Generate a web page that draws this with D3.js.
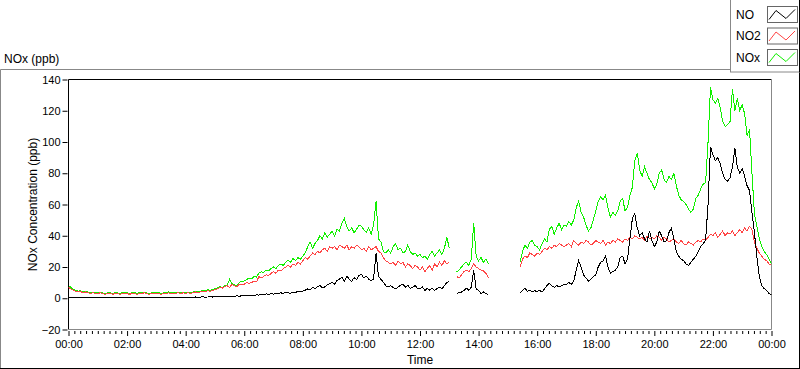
<!DOCTYPE html>
<meta charset="utf-8">
<html>
<head>
  <script src="https://d3js.org/d3.v7.min.js" charset="utf-8"></script>
</head>
<style>
* { font-family: "Liberation Sans", Arial, sans-serif; }
body { margin: 0; background-color: white; }
.tick text { font-size: 11px; fill: #000; }
.label { font-size: 12px; fill: #000; }
</style>
<body>
<div id="container"></div>
<script type="text/javascript">

// one sample every 5 minutes from 00:00 to 24:00, null = no data
var stepMinutes = 5;
var seriesNames = ["NO", "NO2", "NOx"];
var seriesColors = ["#000000", "#ff4545", "#11f000"];
var yTicks = [-20, 0, 20, 40, 60, 80, 100, 120, 140];
var xTicks = [0, 2, 4, 6, 8, 10, 12, 14, 16, 18, 20, 22, 24];
var xTickLabels = ["00:00", "02:00", "04:00", "06:00", "08:00", "10:00", "12:00", "14:00", "16:00", "18:00", "20:00", "22:00", "00:00"];

var NO = [
  0.5,0.8,0.6,0.4,0.5,0.7,0.4,0.5,0.6,0.4,0.5,0.5,
  0.4,0.6,0.5,0.3,0.5,0.6,0.4,0.5,0.4,0.6,0.5,0.4,
  0.5,0.4,0.6,0.5,0.4,0.5,0.6,0.5,0.4,0.5,0.6,0.5,
  0.5,0.6,0.4,0.5,0.7,0.5,0.6,0.4,0.5,0.6,0.5,0.7,
  0.6,0.5,0.7,0.6,0.8,0.6,0.7,0.9,0.7,0.8,1.0,0.8,
  0.9,1.1,0.9,1.2,1.0,1.3,1.1,1.4,1.2,1.5,1.3,1.6,
  1.5,1.8,1.6,2.0,1.8,2.2,2.0,2.5,2.2,2.8,2.5,3.0,
  2.6,3.1,2.8,3.5,3.0,4.0,3.5,3.2,4.0,3.6,4.5,4.1,
  4.5,5.2,6.0,5.4,7.1,6.2,7.5,8.2,6.6,7.3,8.6,9.2,
  10.1,9.0,11.3,12.2,13.5,11.0,14.1,12.3,10.8,13.2,12.0,14.5,
  15.2,13.0,14.1,12.2,11.0,12.5,29.0,14.0,12.1,10.2,8.0,7.2,
  8.1,6.8,6.0,7.2,8.3,9.0,7.1,8.4,6.2,7.0,8.1,6.3,
  6.1,7.2,5.0,6.3,5.2,6.4,5.1,6.2,7.1,6.0,8.2,10.0,
  11.0,null,null,3.0,3.5,4.0,5.0,6.5,5.0,7.0,18.0,6.0,
  5.0,3.0,4.0,2.8,2.5,null,null,null,null,null,null,null,
  null,null,null,null,null,3.3,5.0,6.6,4.5,5.0,4.3,4.8,
  4.3,5.0,4.0,6.0,8.0,9.6,8.0,7.0,8.0,7.5,8.0,9.0,
  9.0,10.0,9.0,11.0,18.0,24.0,20.0,15.0,13.0,11.0,12.0,14.0,
  15.0,20.0,23.0,24.0,27.0,20.0,16.0,17.0,18.0,20.0,26.0,27.0,
  22.0,25.0,38.0,51.0,54.0,45.0,40.0,42.0,38.0,36.0,43.0,37.0,
  33.0,36.0,43.0,40.0,36.0,37.0,42.0,45.0,38.0,30.0,27.0,25.0,
  24.0,22.0,21.0,23.0,25.0,27.0,30.0,33.0,35.0,37.0,60.0,97.0,
  92.0,88.0,90.0,86.0,80.0,76.0,75.0,77.0,84.0,96.0,84.0,80.0,
  83.0,78.0,72.0,69.0,55.0,42.0,26.5,14.0,8.0,6.2,5.0,3.1,
  2.2
];

var NO2 = [
  7.0,6.0,5.0,4.5,4.0,4.2,3.5,4.0,3.5,3.0,3.5,3.0,
  3.0,3.5,3.0,2.5,3.0,3.2,2.5,3.0,3.0,2.5,3.0,3.0,
  3.0,2.5,3.0,3.2,2.5,3.0,3.0,3.5,3.0,2.5,3.0,3.0,
  3.0,3.0,2.5,3.0,3.0,3.5,3.0,3.0,3.2,3.5,3.0,3.5,
  3.0,3.5,3.0,3.5,4.0,3.5,4.0,4.5,4.0,5.0,4.5,5.0,
  5.5,6.0,7.0,6.5,7.5,8.0,7.0,9.0,8.0,7.5,9.0,8.5,
  9.0,10.0,9.5,10.0,11.0,10.5,13.8,13.0,14.0,15.0,14.5,16.0,
  17.0,16.0,18.0,17.5,19.0,20.0,21.0,20.0,22.0,21.0,23.0,22.0,
  24.0,26.0,25.0,27.0,29.0,28.0,30.0,29.0,31.0,32.0,30.0,33.0,
  32.0,33.0,31.0,34.0,33.0,32.0,34.0,31.0,33.0,32.0,34.0,33.0,
  31.0,32.0,30.0,33.0,31.0,32.0,33.0,30.0,29.0,26.0,24.0,23.0,
  22.0,23.0,21.0,24.0,22.0,23.0,20.0,22.0,21.0,19.0,21.0,20.0,
  18.0,20.0,17.0,19.0,21.0,18.0,22.0,20.0,23.0,21.0,24.0,22.0,
  23.0,null,null,14.0,13.0,15.0,17.0,18.0,17.0,19.0,22.0,20.0,
  19.0,18.0,17.5,16.0,13.0,null,null,null,null,null,null,null,
  null,null,null,null,null,20.0,25.0,27.0,26.0,29.0,28.0,27.0,
  29.0,28.0,30.0,32.0,31.0,33.0,32.0,34.0,33.0,35.0,34.0,33.0,
  34.0,35.0,33.0,37.0,35.0,34.0,36.0,35.0,37.0,36.0,34.0,35.0,
  37.0,36.0,35.0,37.0,34.0,36.0,35.0,37.0,36.0,38.0,37.0,36.0,
  38.0,37.0,39.0,38.0,40.0,39.0,38.0,39.0,37.0,40.0,38.0,39.0,
  38.0,40.0,39.0,37.0,39.0,38.0,36.0,37.0,38.0,36.0,35.0,37.0,
  35.0,34.0,36.0,35.0,34.0,36.0,37.0,36.0,38.0,37.0,39.0,41.0,
  40.0,42.0,39.0,41.0,43.0,40.0,42.0,41.0,43.0,40.0,42.0,44.0,
  42.0,45.0,43.0,46.0,44.0,36.0,32.0,29.0,27.0,25.0,24.0,22.0,
  21.0
];

var NOx = [
  8.0,7.0,5.5,5.0,4.5,4.8,4.0,4.5,4.0,3.5,4.0,3.5,
  3.5,4.0,3.5,3.0,3.5,3.7,3.0,3.5,3.5,3.0,3.5,3.5,
  3.5,3.0,3.5,3.7,3.0,3.5,3.5,4.0,3.5,3.0,3.5,3.5,
  3.5,3.5,3.0,3.5,3.5,4.0,3.5,3.5,3.7,4.0,3.5,4.0,
  3.5,4.0,3.5,4.0,4.5,4.0,4.5,5.0,4.5,5.5,5.0,5.5,
  6.0,6.5,7.5,7.0,8.0,8.5,12.0,9.5,8.5,8.0,10.0,11.0,
  11.0,12.0,13.0,12.5,14.0,13.5,16.0,17.0,16.5,18.0,17.5,19.0,
  20.0,19.0,21.0,22.0,21.0,23.0,24.5,23.0,25.5,24.0,26.0,25.0,
  27.0,29.0,33.0,36.0,32.0,35.0,37.0,40.0,38.0,42.0,39.0,41.0,
  43.0,40.0,44.0,43.0,48.0,51.0,46.0,43.0,45.0,42.0,44.0,47.0,
  46.0,44.0,42.0,45.0,41.0,47.0,62.0,38.0,36.0,30.0,29.0,31.0,
  29.0,33.0,35.0,31.0,32.0,29.0,30.0,34.0,30.0,28.0,29.0,27.0,
  28.0,26.0,27.0,25.0,28.0,30.0,27.0,29.0,31.0,28.0,32.0,39.0,
  32.0,null,null,17.0,18.0,20.0,22.0,23.0,21.0,25.0,48.0,27.0,
  24.0,26.0,23.0,25.0,22.0,null,null,null,null,null,null,null,
  null,null,null,null,null,23.0,30.0,34.0,32.0,36.0,37.0,34.0,
  33.0,31.0,35.0,38.0,36.0,44.0,46.0,41.0,45.0,48.0,44.0,47.0,
  46.0,49.0,47.0,50.0,58.0,62.0,55.0,52.0,47.0,43.0,45.0,50.0,
  56.0,62.0,65.0,63.0,66.0,58.0,52.0,55.0,53.0,56.0,62.0,64.0,
  56.0,58.0,66.0,71.0,88.0,93.0,82.0,78.0,84.0,80.0,76.0,74.0,
  70.0,73.0,80.0,82.0,76.0,74.0,78.0,76.0,80.0,72.0,66.0,63.0,
  62.0,60.0,57.0,55.0,57.0,64.0,66.0,70.0,73.0,74.0,100.0,135.0,
  127.0,125.0,128.0,122.0,113.0,110.0,111.0,113.0,134.0,120.0,128.0,120.0,
  124.0,118.0,104.0,108.0,80.0,54.0,46.0,38.0,33.0,30.0,28.0,25.0,
  22.0
];

var width = 800;
var height = 369;
var margin = {left: 68.5, top: 79.5, right: 28.5, bottom: 39.5};

var svg = d3.select("#container")
            .append("svg")
            .attr("width", width)
            .attr("height", height);

var xScale = d3.scaleLinear()
               .domain([0, 24])
               .range([margin.left, width - margin.right]);

var yScale = d3.scaleLinear()
               .domain([-20, 140])
               .range([height - margin.bottom, margin.top]);

// outer frame
svg.append("line").attr("x1", 0.5).attr("x2", 730).attr("y1", 69.5).attr("y2", 69.5).attr("stroke", "#888");
svg.append("line").attr("x1", 0.5).attr("x2", 0.5).attr("y1", 69.5).attr("y2", 368).attr("stroke", "#888");
svg.append("line").attr("x1", 0).attr("x2", 800).attr("y1", 368.5).attr("y2", 368.5).attr("stroke", "#000");
svg.append("line").attr("x1", 799.5).attr("x2", 799.5).attr("y1", 0).attr("y2", 369).attr("stroke", "#000");

svg.append("text")
   .attr("class", "label")
   .attr("x", 4)
   .attr("y", 63)
   .text("NOx (ppb)");

// plot box
var x0 = xScale.range()[0], x1 = xScale.range()[1];
var y0 = yScale.range()[1], y1 = yScale.range()[0];
svg.append("line").attr("x1", x0).attr("x2", x1).attr("y1", y0).attr("y2", y0).attr("stroke", "#000");
svg.append("line").attr("x1", x0).attr("x2", x0).attr("y1", y0).attr("y2", y1).attr("stroke", "#000");
svg.append("line").attr("x1", x1).attr("x2", x1).attr("y1", y0).attr("y2", y1).attr("stroke", "#888");
svg.append("line").attr("x1", x0).attr("x2", x1).attr("y1", y1).attr("y2", y1).attr("stroke", "#888");

svg.append("defs").append("clipPath").attr("id", "clip")
   .append("rect").attr("x", x0).attr("y", y0).attr("width", x1 - x0).attr("height", y1 - y0);

// axes
var yAxis = d3.axisLeft(yScale).tickValues(yTicks).tickSize(5).tickPadding(2);
svg.append("g")
   .attr("transform", "translate(" + (x0 - 1) + ",0)")
   .call(yAxis)
   .call(g => g.select(".domain").remove());

var minor = d3.range(0, 24.01, 0.2).filter(v => Math.abs(v - Math.round(v / 2) * 2) > 0.01);
svg.append("g")
   .attr("transform", "translate(0," + (y1 + 1.5) + ")")
   .call(d3.axisBottom(xScale).tickValues(minor).tickSize(3).tickFormat(""))
   .call(g => g.select(".domain").remove());

var xAxis = d3.axisBottom(xScale).tickValues(xTicks).tickSize(5).tickPadding(4)
              .tickFormat((d, i) => xTickLabels[i]);
svg.append("g")
   .attr("transform", "translate(0," + (y1 + 1.5) + ")")
   .call(xAxis)
   .call(g => g.select(".domain").remove());

svg.selectAll(".tick line").attr("stroke", "#000");

svg.append("text")
   .attr("class", "label")
   .attr("x", (x0 + x1) / 2)
   .attr("y", 364)
   .attr("text-anchor", "middle")
   .text("Time");

svg.append("text")
   .attr("class", "label")
   .attr("transform", "translate(37," + ((y0 + y1) / 2) + ") rotate(-90)")
   .attr("text-anchor", "middle")
   .text("NOx Concentration (ppb)");

// lines: NOx first, then NO2, NO on top
var line = d3.line()
             .defined(d => d != null)
             .x((d, i) => xScale(i * stepMinutes / 60))
             .y(d => yScale(d));

var plotData = [NO, NO2, NOx];
var plots = svg.append("g").attr("clip-path", "url(#clip)");
[2, 1, 0].forEach(function(k) {
    plots.append("path")
         .datum(plotData[k])
         .attr("fill", "none")
         .attr("stroke", seriesColors[k])
         .attr("stroke-width", 1)
         .attr("shape-rendering", "crispEdges")
         .attr("d", line);
});

// legend
var legend = svg.append("g");
legend.append("rect").attr("x", 730.5).attr("y", -1).attr("width", 69).attr("height", 73)
      .attr("fill", "white").attr("stroke", "#888");
legend.append("line").attr("x1", 799.5).attr("x2", 799.5).attr("y1", 0).attr("y2", 72).attr("stroke", "#000");

var zig = d3.line();
seriesNames.forEach(function(name, i) {
    var top = 6.5 + i * 21.5;
    legend.append("text")
          .attr("class", "label")
          .attr("x", 736)
          .attr("y", top + 12)
          .text(name);
    legend.append("rect").attr("x", 767.5).attr("y", top).attr("width", 30).attr("height", 16)
          .attr("fill", "white").attr("stroke", "#666");
    legend.append("path")
          .attr("d", zig([[769, top + 13], [776, top + 4], [786, top + 12], [795, top + 3]]))
          .attr("fill", "none")
          .attr("stroke", seriesColors[i])
          .attr("stroke-width", 1);
});

</script>
</body>
</html>
